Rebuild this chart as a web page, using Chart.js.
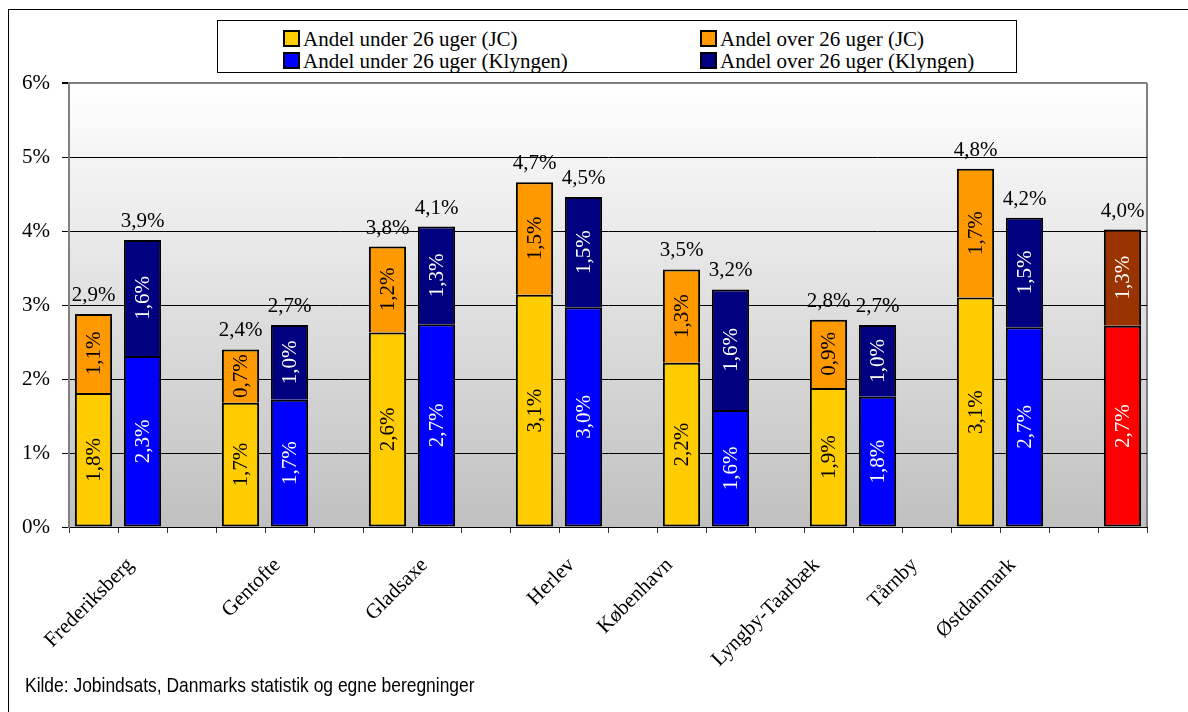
<!DOCTYPE html>
<html lang="da">
<head>
<meta charset="utf-8">
<title>Andel under og over 26 uger</title>
<script src="https://cdn.jsdelivr.net/npm/chart.js@4.4.1/dist/chart.umd.min.js"></script>
<style>
  html, body { margin: 0; padding: 0; background: #fff; overflow: hidden; }
  #wrap { position: relative; width: 1188px; height: 712px; overflow: hidden; }
  #frame { position: absolute; left: 8px; top: 9px; right: -20px; bottom: -20px;
           border-left: 1px solid #000; border-top: 1px solid #000; }
  #chart { position: absolute; left: 0; top: 0; }
  #legend { position: absolute; left: 217px; top: 20px; width: 800px; height: 53px;
            background: #fff; border: 1px solid #000; box-sizing: border-box;
            font-family: "Liberation Serif", "Times New Roman", serif; font-size: 21px; color: #000; }
  .item { position: absolute; white-space: nowrap; line-height: 22px; }
  .swatch { display: inline-block; width: 13px; height: 13px; border: 2px solid #000;
            vertical-align: -1px; margin-right: 3px; }
  #source { position: absolute; left: 25px; top: 673px; white-space: nowrap;
            font-family: "Liberation Sans Narrow", "Liberation Sans", Arial, sans-serif;
            font-size: 21px; color: #000; transform: scaleX(0.83); transform-origin: 0 0; }
</style>
</head>
<body>
<div id="wrap">
  <canvas id="chart" width="1188" height="712"></canvas>
  <div id="frame"></div>
  <div id="legend"></div>
  <div id="source">Kilde: Jobindsats, Danmarks statistik og egne beregninger</div>
</div>
<script>
// Kommuner (hver med et JC-par og et Klynge-par) + Østdanmark til sidst
const municipalities = ['Frederiksberg', 'Gentofte', 'Gladsaxe', 'Herlev', 'København', 'Lyngby-Taarbæk', 'Tårnby'];
const jcUnder = [1.81, 1.68, 2.63, 3.14, 2.22, 1.88, 3.10];
const jcOver = [1.07, 0.72, 1.16, 1.52, 1.26, 0.92, 1.74];
const klUnder = [2.31, 1.72, 2.74, 2.97, 1.58, 1.76, 2.70];
const klOver = [1.57, 1.01, 1.32, 1.49, 1.63, 0.97, 1.48];
const regionName = 'Østdanmark';
const regionUnder = [2.72];
const regionOver = [1.30];
const yTicks = [0, 1, 2, 3, 4, 5, 6];
const sourceText = 'Kilde: Jobindsats, Danmarks statistik og egne beregninger';

// Pladser på x-aksen: JC, Klyngen, tom ... og Østdanmark til sidst
const SLOTS = municipalities.length * 3 + 1;
const nameSlots = [1, 4, 7, 10, 12, 15, 17, 19];

function slotArray(values, offset) {
  const arr = new Array(SLOTS).fill(null);
  values.forEach((v, i) => { arr[i * 3 + offset] = v; });
  return arr;
}

function regionArray(values) {
  const arr = new Array(SLOTS).fill(null);
  arr[SLOTS - 1] = values[0];
  return arr;
}

const tickLabels = new Array(SLOTS).fill('');
municipalities.concat([regionName]).forEach((name, i) => { tickLabels[nameSlots[i]] = name; });

const fmt = (v) => v.toFixed(1).replace('.', ',') + '%';
const serif = '"Liberation Serif", "Times New Roman", serif';

const datasets = [
  { label: 'Andel under 26 uger (JC)', data: slotArray(jcUnder, 0), backgroundColor: '#FFCC00', labelColor: '#000', borderSkipped: false },
  { label: 'Andel over 26 uger (JC)', data: slotArray(jcOver, 0), backgroundColor: '#FF9900', labelColor: '#000', below: 0, borderSkipped: 'bottom' },
  { label: 'Andel under 26 uger (Klyngen)', data: slotArray(klUnder, 1), backgroundColor: '#0000FF', labelColor: '#fff', borderSkipped: false },
  { label: 'Andel over 26 uger (Klyngen)', data: slotArray(klOver, 1), backgroundColor: '#000080', labelColor: '#fff', below: 2, borderSkipped: 'bottom' },
  { label: regionName + ' under', data: regionArray(regionUnder), backgroundColor: '#FF0000', labelColor: '#fff', hideInLegend: true, borderSkipped: false },
  { label: regionName + ' over', data: regionArray(regionOver), backgroundColor: '#993300', labelColor: '#fff', below: 4, hideInLegend: true, borderSkipped: 'bottom' }
];

datasets.forEach((ds) => {
  ds.borderColor = '#000';
  ds.borderWidth = 2;
  ds.barPercentage = 0.76;
  ds.categoryPercentage = 1;
});

// Gradient baggrund i plotområdet + grå højre kant
const backdrop = {
  id: 'backdrop',
  beforeDraw(chart) {
    const { ctx, chartArea: a } = chart;
    const g = ctx.createLinearGradient(0, a.top, 0, a.bottom);
    g.addColorStop(0, '#ffffff');
    g.addColorStop(1, '#c0c0c0');
    ctx.save();
    ctx.fillStyle = g;
    ctx.fillRect(a.left, a.top, a.right - a.left, a.bottom - a.top);
    ctx.strokeStyle = '#808080';
    ctx.lineWidth = 2;
    ctx.beginPath();
    ctx.moveTo(a.right, a.top);
    ctx.lineTo(a.right, a.bottom);
    ctx.stroke();
    ctx.restore();
  }
};

// Værdier i søjlerne (lodret) og total over søjlen
const valueLabels = {
  id: 'valueLabels',
  afterDatasetsDraw(chart) {
    const ctx = chart.ctx;
    const all = chart.data.datasets;
    all.forEach((ds, i) => {
      const meta = chart.getDatasetMeta(i);
      meta.data.forEach((bar, j) => {
        const v = ds.data[j];
        if (v == null) return;
        ctx.save();
        ctx.translate(bar.x, (bar.y + bar.base) / 2);
        ctx.rotate(-Math.PI / 2);
        ctx.font = '21px ' + serif;
        ctx.fillStyle = ds.labelColor;
        ctx.textAlign = 'center';
        ctx.textBaseline = 'middle';
        ctx.fillText(fmt(v), 0, 1);
        ctx.restore();

        if (typeof ds.below === 'number') {
          const total = Math.round((v + all[ds.below].data[j]) * 100) / 100;
          ctx.save();
          ctx.font = '21px ' + serif;
          ctx.fillStyle = '#000';
          ctx.textAlign = 'center';
          ctx.textBaseline = 'alphabetic';
          ctx.fillText(fmt(total), bar.x, bar.y - 13);
          ctx.restore();
        }
      });
    });
  }
};

const chart = new Chart(document.getElementById('chart'), {
  type: 'bar',
  data: { labels: tickLabels, datasets },
  plugins: [backdrop, valueLabels],
  options: {
    responsive: false,
    animation: false,
    devicePixelRatio: 1,
    layout: { padding: { top: 83, right: 41, left: 0, bottom: 0 } },
    plugins: {
      legend: { display: false },
      tooltip: { enabled: false }
    },
    scales: {
      x: {
        stacked: true,
        offset: true,
        grid: { offset: true, drawOnChartArea: false, tickLength: 6, tickColor: '#333', lineWidth: 1 },
        border: { color: '#000', width: 1 },
        ticks: {
          autoSkip: false,
          maxRotation: 45,
          minRotation: 45,
          padding: 20,
          labelOffset: -12,
          color: '#000',
          font: { family: serif, size: 21 }
        },
        afterFit(scale) { scale.height = 185; }
      },
      y: {
        stacked: true,
        min: yTicks[0],
        max: yTicks[yTicks.length - 1],
        afterBuildTicks(scale) { scale.ticks = yTicks.map((v) => ({ value: v })); },
        ticks: {
          callback: (v) => v + '%',
          color: '#000',
          padding: 12,
          font: { family: serif, size: 21 }
        },
        grid: {
          color: (c) => (c.tick && c.tick.value === yTicks[yTicks.length - 1] ? '#808080' : '#000'),
          tickColor: '#000',
          tickLength: 7,
          lineWidth: (c) => (c.tick && c.tick.value === yTicks[yTicks.length - 1] ? 2 : 1)
        },
        border: { color: '#808080', width: 2 },
        afterFit(scale) { scale.width = 69; }
      }
    }
  }
});

// Forklaring i to kolonner
function renderLegend() {
  const box = document.getElementById('legend');
  const items = chart.data.datasets.filter((ds) => !ds.hideInLegend);
  const cols = [65, 482];
  const rows = [7, 29];
  items.forEach((ds, i) => {
    const el = document.createElement('div');
    el.className = 'item';
    el.style.left = cols[i % 2] + 'px';
    el.style.top = rows[Math.floor(i / 2)] + 'px';
    el.innerHTML = '<span class="swatch" style="background:' + ds.backgroundColor + '"></span>' + ds.label;
    box.appendChild(el);
  });
}

renderLegend();
document.getElementById('source').textContent = sourceText;
</script>
</body>
</html>
